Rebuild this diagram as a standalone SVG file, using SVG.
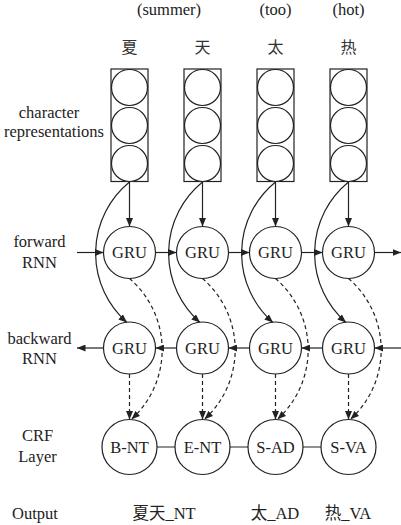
<svg xmlns="http://www.w3.org/2000/svg" width="401" height="525" viewBox="0 0 401 525">
<style>
.t{font-family:"Liberation Serif","Noto Sans CJK SC",serif;font-size:16.5px;fill:#222;text-anchor:middle}
.cjk{font-family:"Noto Sans CJK SC",sans-serif;font-size:16px;fill:#333;text-anchor:middle}
.box{fill:none;stroke:#222;stroke-width:1.2}
.nd{fill:#fff;stroke:#222;stroke-width:1.2}
.ln{fill:none;stroke:#222;stroke-width:1.2}
.ds{fill:none;stroke:#222;stroke-width:1.2;stroke-dasharray:4,3}
</style>
<defs>
<marker id="ah" markerUnits="userSpaceOnUse" markerWidth="9" markerHeight="7" refX="8.5" refY="3.5" orient="auto">
<path d="M0,0 L8.5,3.5 L0,7 z" fill="#222"/>
</marker>
</defs>
<g id="labels">
<text class="t" x="169" y="15">(summer)</text>
<text class="t" x="275.5" y="15">(too)</text>
<text class="t" x="348.5" y="15">(hot)</text>
<text class="cjk" x="129.5" y="53">夏</text>
<text class="cjk" x="202.5" y="53">天</text>
<text class="cjk" x="275.5" y="53">太</text>
<text class="cjk" x="348.5" y="53">热</text>
<text class="t" x="49" y="118">character</text>
<text class="t" x="54" y="137">representations</text>
<text class="t" x="39.5" y="247">forward</text>
<text class="t" x="39.5" y="268">RNN</text>
<text class="t" x="39.5" y="344">backward</text>
<text class="t" x="39.5" y="364">RNN</text>
<text class="t" x="37.5" y="441">CRF</text>
<text class="t" x="37.5" y="462">Layer</text>
<text class="t" x="35" y="519">Output</text>
<text class="t" x="164" y="519">夏天_NT</text>
<text class="t" x="275" y="519">太_AD</text>
<text class="t" x="348" y="519">热_VA</text>
</g>
<g id="connectors">
<path class="ln" marker-end="url(#ah)" d="M129.5,181.5 V226.5"/>
<path class="ln" marker-end="url(#ah)" d="M202.5,181.5 V226.5"/>
<path class="ln" marker-end="url(#ah)" d="M275.5,181.5 V226.5"/>
<path class="ln" marker-end="url(#ah)" d="M348.5,181.5 V226.5"/>
<path class="ln" marker-end="url(#ah)" d="M129.5,182 A92,92 0 0,0 127,322.5"/>
<path class="ln" marker-end="url(#ah)" d="M202.5,182 A92,92 0 0,0 200,322.5"/>
<path class="ln" marker-end="url(#ah)" d="M275.5,182 A92,92 0 0,0 273,322.5"/>
<path class="ln" marker-end="url(#ah)" d="M348.5,182 A92,92 0 0,0 346,322.5"/>
<path class="ln" marker-end="url(#ah)" d="M77,252.5 H103.5"/>
<path class="ln" marker-end="url(#ah)" d="M155.5,252.5 H176.5"/>
<path class="ln" marker-end="url(#ah)" d="M228.5,252.5 H249.5"/>
<path class="ln" marker-end="url(#ah)" d="M301.5,252.5 H322.5"/>
<path class="ln" marker-end="url(#ah)" d="M374.5,252.5 H401"/>
<path class="ln" marker-end="url(#ah)" d="M401,348 H374.5"/>
<path class="ln" marker-end="url(#ah)" d="M322.5,348 H301.5"/>
<path class="ln" marker-end="url(#ah)" d="M249.5,348 H228.5"/>
<path class="ln" marker-end="url(#ah)" d="M176.5,348 H155.5"/>
<path class="ln" marker-end="url(#ah)" d="M103.5,348 H77"/>
<path class="ds" marker-end="url(#ah)" d="M129.5,278.5 A94,94 0 0,1 131.5,419.2"/>
<path class="ds" marker-end="url(#ah)" d="M202.5,278.5 A94,94 0 0,1 204.5,419.2"/>
<path class="ds" marker-end="url(#ah)" d="M275.5,278.5 A94,94 0 0,1 277.5,419.2"/>
<path class="ds" marker-end="url(#ah)" d="M348.5,278.5 A94,94 0 0,1 350.5,419.2"/>
<path class="ds" marker-end="url(#ah)" d="M129.5,374 V419.5"/>
<path class="ds" marker-end="url(#ah)" d="M202.5,374 V419.5"/>
<path class="ds" marker-end="url(#ah)" d="M275.5,374 V419.5"/>
<path class="ds" marker-end="url(#ah)" d="M348.5,374 V419.5"/>
<path class="ln" d="M157,447 H175 M230,447 H248 M303,447 H321"/>
</g>
<g id="char1"><rect class="box" x="111" y="69" width="37" height="112.5"/><circle class="nd" cx="129.5" cy="87.5" r="18"/><circle class="nd" cx="129.5" cy="125.5" r="18"/><circle class="nd" cx="129.5" cy="163.5" r="18"/></g>
<g id="char2"><rect class="box" x="184" y="69" width="37" height="112.5"/><circle class="nd" cx="202.5" cy="87.5" r="18"/><circle class="nd" cx="202.5" cy="125.5" r="18"/><circle class="nd" cx="202.5" cy="163.5" r="18"/></g>
<g id="char3"><rect class="box" x="257" y="69" width="37" height="112.5"/><circle class="nd" cx="275.5" cy="87.5" r="18"/><circle class="nd" cx="275.5" cy="125.5" r="18"/><circle class="nd" cx="275.5" cy="163.5" r="18"/></g>
<g id="char4"><rect class="box" x="330" y="69" width="37" height="112.5"/><circle class="nd" cx="348.5" cy="87.5" r="18"/><circle class="nd" cx="348.5" cy="125.5" r="18"/><circle class="nd" cx="348.5" cy="163.5" r="18"/></g>
<g id="fwd1"><circle class="nd" cx="129.5" cy="252.5" r="26"/><text class="t" x="129.5" y="258">GRU</text></g>
<g id="fwd2"><circle class="nd" cx="202.5" cy="252.5" r="26"/><text class="t" x="202.5" y="258">GRU</text></g>
<g id="fwd3"><circle class="nd" cx="275.5" cy="252.5" r="26"/><text class="t" x="275.5" y="258">GRU</text></g>
<g id="fwd4"><circle class="nd" cx="348.5" cy="252.5" r="26"/><text class="t" x="348.5" y="258">GRU</text></g>
<g id="bwd1"><circle class="nd" cx="129.5" cy="348" r="26"/><text class="t" x="129.5" y="353.5">GRU</text></g>
<g id="bwd2"><circle class="nd" cx="202.5" cy="348" r="26"/><text class="t" x="202.5" y="353.5">GRU</text></g>
<g id="bwd3"><circle class="nd" cx="275.5" cy="348" r="26"/><text class="t" x="275.5" y="353.5">GRU</text></g>
<g id="bwd4"><circle class="nd" cx="348.5" cy="348" r="26"/><text class="t" x="348.5" y="353.5">GRU</text></g>
<g id="crf1"><circle class="nd" cx="129.5" cy="447" r="27.5"/><text class="t" x="129.5" y="452.5">B-NT</text></g>
<g id="crf2"><circle class="nd" cx="202.5" cy="447" r="27.5"/><text class="t" x="202.5" y="452.5">E-NT</text></g>
<g id="crf3"><circle class="nd" cx="275.5" cy="447" r="27.5"/><text class="t" x="275.5" y="452.5">S-AD</text></g>
<g id="crf4"><circle class="nd" cx="348.5" cy="447" r="27.5"/><text class="t" x="348.5" y="452.5">S-VA</text></g>
</svg>
